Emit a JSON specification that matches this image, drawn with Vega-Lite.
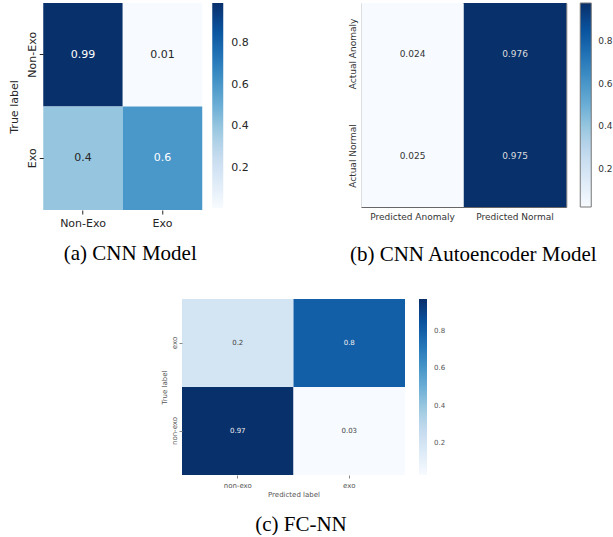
{
  "$schema": "https://vega.github.io/schema/vega-lite/v6.json",
  "padding": {"left": 8, "top": 2, "right": 0, "bottom": 0},
  "background": "white",
  "config": {
    "view": {"stroke": null},
    "font": "DejaVu Sans",
    "axis": {"domain": false, "grid": false, "labelFont": "DejaVu Sans", "titleFont": "DejaVu Sans", "titleFontWeight": "normal"},
    "legend": {"labelFont": "DejaVu Sans"},
    "title": {"font": "Liberation Serif", "fontSize": 21, "fontWeight": "normal", "orient": "bottom", "anchor": "middle", "color": "black", "frame": "group"}
  },
  "datasets": {
    "a": [
      {"true": "Non-Exo", "pred": "Non-Exo", "v": 0.99},
      {"true": "Non-Exo", "pred": "Exo", "v": 0.01},
      {"true": "Exo", "pred": "Non-Exo", "v": 0.4},
      {"true": "Exo", "pred": "Exo", "v": 0.6}
    ],
    "b": [
      {"true": "Actual Anomaly", "pred": "Predicted Anomaly", "v": 0.024},
      {"true": "Actual Anomaly", "pred": "Predicted Normal", "v": 0.976},
      {"true": "Actual Normal", "pred": "Predicted Anomaly", "v": 0.025},
      {"true": "Actual Normal", "pred": "Predicted Normal", "v": 0.975}
    ],
    "c": [
      {"true": "exo", "pred": "non-exo", "v": 0.2},
      {"true": "exo", "pred": "exo", "v": 0.8},
      {"true": "non-exo", "pred": "non-exo", "v": 0.97},
      {"true": "non-exo", "pred": "exo", "v": 0.03}
    ]
  },
  "vconcat": [
    {
      "hconcat": [
        {
          "width": 159,
          "height": 207,
          "data": {"name": "a"},
          "title": {"text": "(a) CNN Model", "offset": 15, "dx": 7.5},
          "encoding": {
            "x": {"field": "pred", "type": "nominal", "sort": ["Non-Exo", "Exo"], "scale": {"paddingInner": 0, "paddingOuter": 0},
              "axis": {"title": null, "labelAngle": 0, "labelFontSize": 11, "labelColor": "#262626", "tickSize": 4, "tickColor": "#262626", "labelPadding": 3}},
            "y": {"field": "true", "type": "nominal", "sort": ["Non-Exo", "Exo"], "scale": {"paddingInner": 0, "paddingOuter": 0},
              "axis": {"title": "True label", "titleFontSize": 11, "titleColor": "#262626", "titlePadding": 7, "labelAngle": -90, "labelFontSize": 11, "labelColor": "#262626", "tickSize": 4, "tickColor": "#262626", "labelPadding": 2}}
          },
          "layer": [
            {
              "mark": {"type": "rect"},
              "encoding": {
                "color": {"field": "v", "type": "quantitative",
                  "scale": {"domain": [0.01, 0.99], "range": ["#f7fbff", "#deebf7", "#c6dbef", "#9ecae1", "#6baed6", "#4292c6", "#2171b5", "#08519c", "#08306b"]},
                  "legend": {"title": null, "values": [0.2, 0.4, 0.6, 0.8], "gradientLength": 205, "gradientThickness": 11, "offset": 10, "labelFontSize": 11, "labelColor": "#262626", "labelOffset": 8, "gradientStrokeWidth": 0}}
              }
            },
            {
              "mark": {"type": "text", "fontSize": 11},
              "encoding": {
                "text": {"field": "v", "type": "nominal"},
                "color": {"condition": {"test": "datum.v > 0.5", "value": "white"}, "value": "#262626"}
              }
            }
          ]
        },
        {
          "width": 205,
          "height": 204,
          "data": {"name": "b"},
          "view": {"stroke": "#666666", "strokeWidth": 1},
          "title": {"text": "(b) CNN Autoencoder Model", "offset": 23, "dx": 9.5},
          "encoding": {
            "x": {"field": "pred", "type": "nominal", "sort": ["Predicted Anomaly", "Predicted Normal"], "scale": {"paddingInner": 0, "paddingOuter": 0},
              "axis": {"title": null, "labelAngle": 0, "labelFontSize": 9, "labelColor": "#333333", "ticks": false, "labelPadding": 5}},
            "y": {"field": "true", "type": "nominal", "sort": ["Actual Anomaly", "Actual Normal"], "scale": {"paddingInner": 0, "paddingOuter": 0},
              "axis": {"title": null, "labelAngle": -90, "labelFontSize": 9, "labelColor": "#333333", "ticks": false, "labelPadding": 4}}
          },
          "layer": [
            {
              "mark": {"type": "rect"},
              "encoding": {
                "color": {"field": "v", "type": "quantitative",
                  "scale": {"domain": [0.024, 0.976], "range": ["#f7fbff", "#deebf7", "#c6dbef", "#9ecae1", "#6baed6", "#4292c6", "#2171b5", "#08519c", "#08306b"]},
                  "legend": {"title": null, "values": [0.2, 0.4, 0.6, 0.8], "gradientLength": 204, "gradientThickness": 11, "offset": 14, "labelFontSize": 9, "labelColor": "#333333", "labelOffset": 7, "gradientStrokeColor": "#777777", "gradientStrokeWidth": 1}}
              }
            },
            {
              "mark": {"type": "text", "fontSize": 9},
              "encoding": {
                "text": {"field": "v", "type": "nominal"},
                "color": {"condition": {"test": "datum.v > 0.5", "value": "#dddddd"}, "value": "#333333"}
              }
            }
          ]
        }
      ],
      "spacing": 98,
      "resolve": {"scale": {"color": "independent"}, "legend": {"color": "independent"}}
    },
    {
      "width": 223,
      "height": 176,
      "data": {"name": "c"},
      "title": {"text": "(c) FC-NN", "offset": 17, "dx": 7.5},
      "encoding": {
        "x": {"field": "pred", "type": "nominal", "sort": ["non-exo", "exo"], "scale": {"paddingInner": 0, "paddingOuter": 0},
          "axis": {"title": "Predicted label", "titleFontSize": 7, "titleColor": "#555555", "titlePadding": 2, "labelAngle": 0, "labelFontSize": 7, "labelColor": "#555555", "tickSize": 3, "tickColor": "#888888", "labelPadding": 3}},
        "y": {"field": "true", "type": "nominal", "sort": ["exo", "non-exo"], "scale": {"paddingInner": 0, "paddingOuter": 0},
          "axis": {"title": "True label", "titleFontSize": 7, "titleColor": "#555555", "titlePadding": 3, "labelAngle": -90, "labelFontSize": 7, "labelColor": "#555555", "tickSize": 3, "tickColor": "#888888", "labelPadding": 2}}
      },
      "layer": [
        {
          "mark": {"type": "rect"},
          "encoding": {
            "color": {"field": "v", "type": "quantitative",
              "scale": {"domain": [0.03, 0.97], "range": ["#f7fbff", "#deebf7", "#c6dbef", "#9ecae1", "#6baed6", "#4292c6", "#2171b5", "#08519c", "#08306b"]},
              "legend": {"title": null, "values": [0.2, 0.4, 0.6, 0.8], "gradientLength": 176, "gradientThickness": 8, "offset": 14, "labelFontSize": 7, "labelColor": "#555555", "labelOffset": 7, "gradientStrokeWidth": 0, "labelExpr": "datum.label + '             \u200b'"}}
          }
        },
        {
          "mark": {"type": "text", "fontSize": 7},
          "encoding": {
            "text": {"field": "v", "type": "nominal"},
            "color": {"condition": {"test": "datum.v > 0.5", "value": "#eeeeee"}, "value": "#444444"}
          }
        }
      ]
    }
  ],
  "spacing": 33,
  "center": true,
  "resolve": {"scale": {"color": "independent"}, "legend": {"color": "independent"}}
}
